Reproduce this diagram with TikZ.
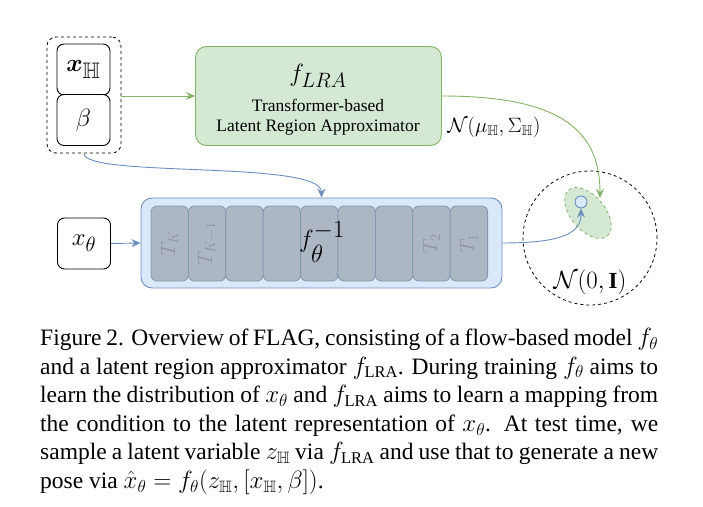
\documentclass[tikz,border=0pt]{standalone}
\usepackage{amsmath,amssymb,bm}
\usepackage{fontspec}
\setmainfont{Liberation Serif}
\usetikzlibrary{arrows.meta}
\definecolor{gfill}{HTML}{D5E8D4}
\definecolor{gline}{HTML}{82B366}
\definecolor{bfill}{HTML}{DAE8FC}
\definecolor{bline}{HTML}{6C8EBF}
\definecolor{tfill}{HTML}{ADB7C4}
\definecolor{tline}{HTML}{8496AE}
\definecolor{tlabel}{HTML}{8E949C}
\tikzset{
  cbox/.style={draw=black, line width=0.9pt, rounded corners=7pt, fill=white, minimum width=53pt, minimum height=51pt, inner sep=0pt, font=\fontsize{32}{32}\selectfont},
  grpbox/.style={draw=black, dashed, line width=0.8pt, rounded corners=9pt, minimum width=74pt, minimum height=116pt, inner sep=0pt},
  lrabox/.style={draw=gline, fill=gfill, line width=0.9pt, rounded corners=11pt, minimum width=246pt, minimum height=99pt, inner sep=0pt},
  flowbox/.style={draw=bline, fill=bfill, line width=0.9pt, rounded corners=11pt, minimum width=361pt, minimum height=90pt, inner sep=0pt},
  tbox/.style={draw=tline, fill=tfill, line width=0.8pt, rounded corners=6pt, minimum width=37.4pt, minimum height=75pt, inner sep=0pt},
  tlab/.style={text=tlabel, rotate=90, font=\fontsize{20}{20}\selectfont},
  garrow/.style={draw=gline, line width=0.9pt, -{Stealth[length=9pt,width=8pt]}},
  barrow/.style={draw=bline, line width=0.9pt, -{Stealth[length=9pt,width=8pt]}},
  plain/.style={inner sep=0pt},
}
\begin{document}
\begin{tikzpicture}[x=1pt,y=1pt]
\useasboundingbox (0,0) rectangle (703,-506);
% condition group
\node[grpbox] (grp) at (84,-95) {};
\node[cbox] (xh) at (83.5,-69.5) {$\bm{x}_{\mathbb{H}}$};
\node[cbox] (beta) at (83.5,-120) {$\beta$};
% LRA
\node[lrabox] (lra) at (318.5,-96) {};
\node[plain, font=\fontsize{28}{28}\selectfont] (flra) at (318,-76) {$f_{LRA}$};
\node[plain, font=\fontsize{17.5}{17.5}\selectfont] (l1) at (318,-105) {Transformer-based};
\node[plain, font=\fontsize{17.5}{17.5}\selectfont] (l2) at (318,-128) {Latent Region Approximator};
\draw[garrow] (grp.east |- lra.west) -- (lra.west);
% flow
\node[flowbox] (flow) at (321.5,-243) {};
\foreach \i in {0,...,8} {
  \node[tbox] (t\i) at ({151+18.7+37.4*\i},-243.5) {};
}
\node[tlab] (tk) at (t0) {$T_K$};
\node[tlab] (tk1) at (t1) {$T_{K-1}$};
\node[tlab] (t2l) at (t7) {$T_2$};
\node[tlab] (t1l) at (t8) {$T_1$};
\node[plain, font=\fontsize{40}{40}\selectfont] (finv) at (322,-242) {$f_\theta^{-1}$};
% x theta
\node[cbox] (xt) at (84,-243.5) {$x_\theta$};
\draw[barrow] (xt.east) -- (flow.west);
% latent space
\node[draw=black, dashed, line width=0.8pt, circle, minimum size=134pt, inner sep=0pt] (lat) at (590,-238) {};
\draw[draw=gline, fill=gfill, dashed, line width=0.8pt, rotate around={-50:(588,-213)}] (588,-213) ellipse [x radius=30pt, y radius=17pt];
\node[circle, draw=bline, fill=bfill, line width=0.9pt, minimum size=12pt, inner sep=0pt] (dot) at (581,-202) {};
\node[plain, font=\fontsize{23}{23}\selectfont] (nlab) at (590,-282) {$\mathcal{N}(0,\mathbf{I})$};
\coordinate (gtip) at (600,-198);
% connectors
\draw[barrow] (grp.south) .. controls (84,-178) and (321,-160) .. (flow.north);
\draw[garrow] (lra.east) .. controls (560,-96) and (600,-130) .. (gtip);
\draw[barrow] (flow.east) .. controls (565,-243) and (581,-232) .. (dot.south);
\node[plain, font=\fontsize{20}{20}\selectfont] (nh) at (494,-127) {$\mathcal{N}(\mu_{\mathbb{H}},\Sigma_{\mathbb{H}})$};
% caption
\node[plain, anchor=north west, text width=618pt, align=justify, font=\fontsize{23.5}{28.6}\selectfont] (cap) at (40,-328) {%
Figure 2. Overview of FLAG, consisting of a flow-based model $f_\theta$\linebreak
and a latent region approximator $f_{\mathrm{LRA}}$. During training $f_\theta$ aims to\linebreak
learn the distribution of $x_\theta$ and $f_{\mathrm{LRA}}$ aims to learn a mapping from\linebreak
the condition to the latent representation of $x_\theta$. At test time, we\linebreak
sample a latent variable $z_{\mathbb{H}}$ via $f_{\mathrm{LRA}}$ and use that to generate a new\linebreak
pose via $\hat{x}_\theta = f_\theta(z_{\mathbb{H}},[x_{\mathbb{H}},\beta])$.};
\end{tikzpicture}
\end{document}
